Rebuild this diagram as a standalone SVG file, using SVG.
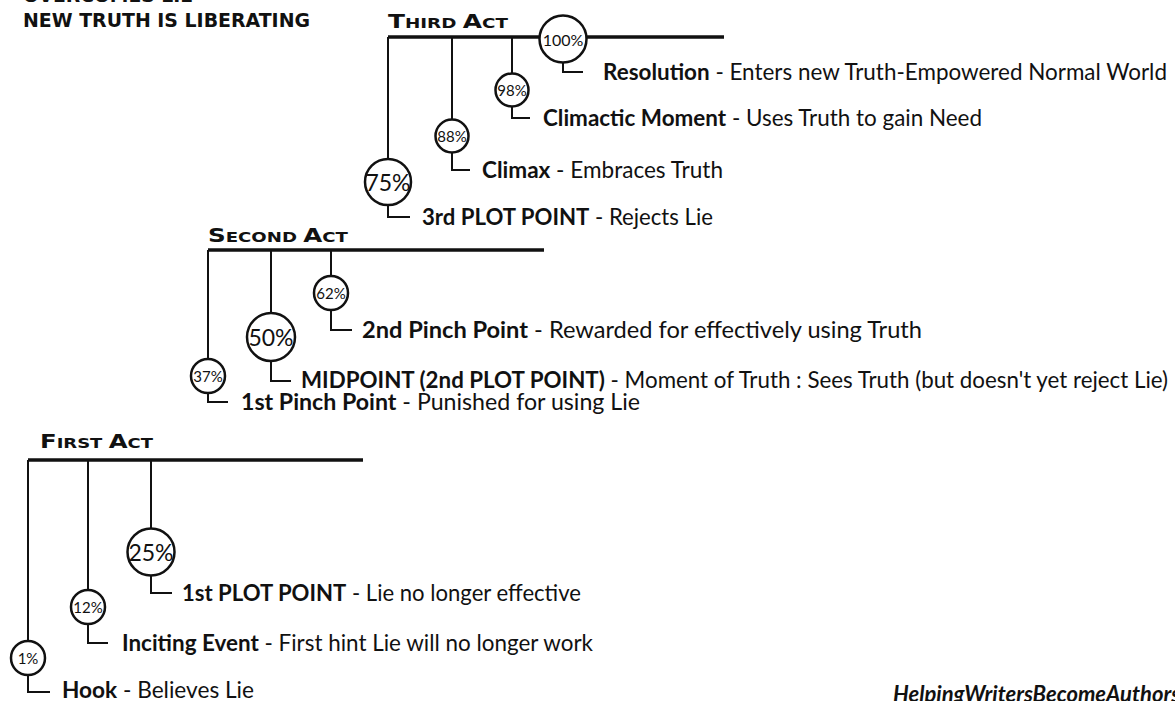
<svg xmlns="http://www.w3.org/2000/svg" width="1175" height="701" viewBox="0 0 1175 701">
  <style>
    .bg { fill: #ffffff; }
    .act { stroke: #111; stroke-width: 3.5; fill: none; }
    .stem { stroke: #111; stroke-width: 2; fill: none; }
    .ring { stroke: #111; stroke-width: 2.5; fill: #fff; }
    .pct { font-family: Lato, "Open Sans", sans-serif; fill: #111; text-anchor: middle; dominant-baseline: central; }
    .pct-s { font-size: 15px; }
    .pct-m { font-size: 16px; }
    .pct-l { font-size: 23px; }
    .lbl { font-family: Lato, "Open Sans", sans-serif; font-size: 22.5px; fill: #111; }
    .lbl .b { font-weight: 700; }
    .title { font-family: "DejaVu Sans", sans-serif; font-weight: 700; fill: #111; }
    .mark { font-family: Lato, sans-serif; font-weight: 700; font-style: italic; font-size: 22px; fill: #111; }
  </style>

  <rect class="bg" x="0" y="0" width="1175" height="701"/>

  <!-- heading, top left -->
  <g id="heading">
    <text class="title" x="23" y="2" font-size="19" textLength="170" lengthAdjust="spacingAndGlyphs">OVERCOMES LIE</text>
    <text class="title" x="23" y="27" font-size="19" textLength="287" lengthAdjust="spacingAndGlyphs">NEW TRUTH IS LIBERATING</text>
  </g>

  <!-- act rails and stems -->
  <g id="connectors">
    <!-- third act -->
    <path class="act" d="M388,37 H724"/>
    <path class="stem" d="M388,37 V159 M452,37 V119 M512,37 V73"/>
    <path class="stem" d="M563,62.5 V72 H583 M512,106.5 V118 H530 M452,152.5 V170 H470 M388,205 V217 H410"/>
    <!-- second act -->
    <path class="act" d="M208,250 H544"/>
    <path class="stem" d="M208,250 V359 M271,250 V313 M331,250 V276"/>
    <path class="stem" d="M331,310 V330 H352 M271,361 V381 H291 M208,393 V402 H228"/>
    <!-- first act -->
    <path class="act" d="M28,460 H363"/>
    <path class="stem" d="M28,460 V641 M88,460 V590 M151,460 V529"/>
    <path class="stem" d="M151,575.5 V593 H172 M88,624 V643 H108 M28,675 V692 H50"/>
  </g>

  <!-- act titles -->
  <g id="third-act-title">
    <text class="title" x="388" y="28" textLength="120" lengthAdjust="spacingAndGlyphs"><tspan font-size="19">T</tspan><tspan font-size="14">HIRD </tspan><tspan font-size="19">A</tspan><tspan font-size="14">CT</tspan></text>
  </g>
  <g id="second-act-title">
    <text class="title" x="208" y="242" textLength="140" lengthAdjust="spacingAndGlyphs"><tspan font-size="19">S</tspan><tspan font-size="14">ECOND </tspan><tspan font-size="19">A</tspan><tspan font-size="14">CT</tspan></text>
  </g>
  <g id="first-act-title">
    <text class="title" x="40" y="448" textLength="113" lengthAdjust="spacingAndGlyphs"><tspan font-size="19">F</tspan><tspan font-size="14">IRST </tspan><tspan font-size="19">A</tspan><tspan font-size="14">CT</tspan></text>
  </g>

  <!-- third act beats -->
  <g id="beat-100">
    <circle class="ring" cx="563" cy="39" r="23.5"/>
    <text class="pct pct-m" x="563" y="39">100%</text>
    <text class="lbl" x="603" y="79.5" textLength="564" lengthAdjust="spacingAndGlyphs"><tspan class="b">Resolution</tspan> - Enters new Truth-Empowered Normal World</text>
  </g>
  <g id="beat-98">
    <circle class="ring" cx="512" cy="90" r="16.5"/>
    <text class="pct pct-s" x="512" y="90">98%</text>
    <text class="lbl" x="543" y="125.5" textLength="439" lengthAdjust="spacingAndGlyphs"><tspan class="b">Climactic Moment</tspan> - Uses Truth to gain Need</text>
  </g>
  <g id="beat-88">
    <circle class="ring" cx="452" cy="136" r="16.5"/>
    <text class="pct pct-s" x="452" y="136">88%</text>
    <text class="lbl" x="482" y="177.5" textLength="241" lengthAdjust="spacingAndGlyphs"><tspan class="b">Climax</tspan> - Embraces Truth</text>
  </g>
  <g id="beat-75">
    <circle class="ring" cx="388" cy="182" r="23"/>
    <text class="pct pct-l" x="388" y="182">75%</text>
    <text class="lbl" x="422" y="224.5" textLength="291" lengthAdjust="spacingAndGlyphs"><tspan class="b">3rd PLOT POINT</tspan> - Rejects Lie</text>
  </g>

  <!-- second act beats -->
  <g id="beat-62">
    <circle class="ring" cx="331" cy="293" r="17"/>
    <text class="pct pct-s" x="331" y="293">62%</text>
    <text class="lbl" x="362" y="337.5" textLength="560" lengthAdjust="spacingAndGlyphs"><tspan class="b">2nd Pinch Point</tspan> - Rewarded for effectively using Truth</text>
  </g>
  <g id="beat-50">
    <circle class="ring" cx="271" cy="337" r="24"/>
    <text class="pct pct-l" x="271" y="337">50%</text>
    <text class="lbl" x="301" y="388" textLength="867" lengthAdjust="spacingAndGlyphs"><tspan class="b">MIDPOINT (2nd PLOT POINT)</tspan> - Moment of Truth : Sees Truth (but doesn't yet reject Lie)</text>
  </g>
  <g id="beat-37">
    <circle class="ring" cx="208" cy="376" r="17"/>
    <text class="pct pct-s" x="208" y="376">37%</text>
    <text class="lbl" x="241" y="409.5" textLength="399" lengthAdjust="spacingAndGlyphs"><tspan class="b">1st Pinch Point</tspan> - Punished for using Lie</text>
  </g>

  <!-- first act beats -->
  <g id="beat-25">
    <circle class="ring" cx="151" cy="552" r="23.5"/>
    <text class="pct pct-l" x="151" y="552">25%</text>
    <text class="lbl" x="182" y="600.5" textLength="399" lengthAdjust="spacingAndGlyphs"><tspan class="b">1st PLOT POINT</tspan> - Lie no longer effective</text>
  </g>
  <g id="beat-12">
    <circle class="ring" cx="88" cy="607" r="17"/>
    <text class="pct pct-s" x="88" y="607">12%</text>
    <text class="lbl" x="122" y="650.5" textLength="471" lengthAdjust="spacingAndGlyphs"><tspan class="b">Inciting Event</tspan> - First hint Lie will no longer work</text>
  </g>
  <g id="beat-1">
    <circle class="ring" cx="28" cy="658" r="17"/>
    <text class="pct pct-s" x="28" y="658">1%</text>
    <text class="lbl" x="62" y="697.5" textLength="192" lengthAdjust="spacingAndGlyphs"><tspan class="b">Hook</tspan> - Believes Lie</text>
  </g>

  <g id="credit">
    <text class="mark" x="893" y="702">HelpingWritersBecomeAuthors</text>
  </g>
</svg>
